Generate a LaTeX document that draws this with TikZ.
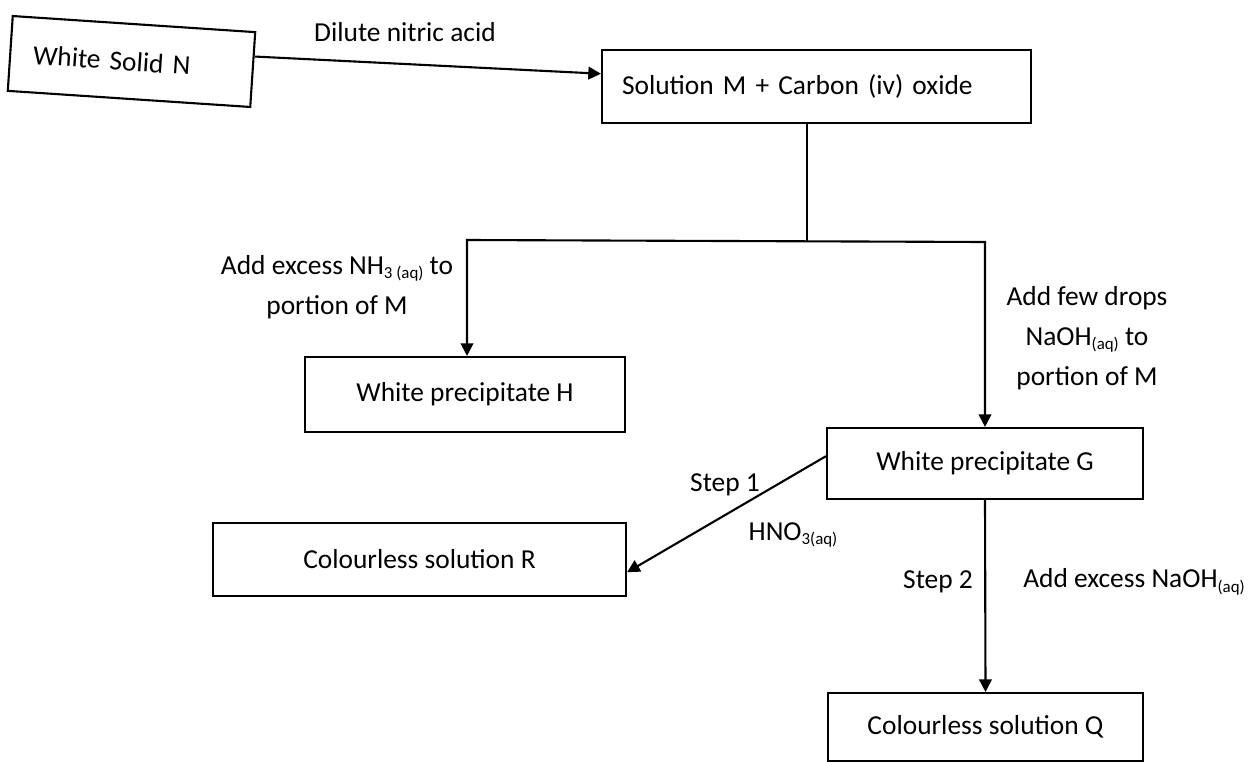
\documentclass[tikz,border=0pt]{standalone}
\usepackage{fontspec}
\setmainfont{Carlito}
\usetikzlibrary{arrows.meta,calc}
\newcommand\chemsub[1]{\raisebox{-0.35ex}{\fontsize{12}{12}\selectfont #1}}
\begin{document}
\begin{tikzpicture}[x=0.025cm,y=-0.025cm,
  every node/.style={font=\fontsize{19.5}{28.5}\selectfont},
  box/.style={draw, line width=1.5pt, inner sep=0pt},
  conn/.style={line width=1.5pt},
  tipA/.tip={Triangle[length=9pt,width=9pt]},
  arr/.style={conn, -tipA},
  lbl/.style={align=center, inner sep=0pt}]
\useasboundingbox (0,0) rectangle (1250,762);
% boxes
\node[box, rotate=-3.8, minimum width=243*0.025cm, minimum height=75*0.025cm,
      text width=197*0.025cm, align=left, inner xsep=23*0.025cm] (N) at (131.5,61.5) {White Solid N};
\node[box, minimum width=429*0.025cm, minimum height=73*0.025cm,
      text width=389*0.025cm, align=left, inner xsep=20*0.025cm] (M) at (816.5,86.5) {Solution M + Carbon (iv) oxide};
\node[box, minimum width=320*0.025cm, minimum height=75*0.025cm] (H) at (465,394.5) {White precipitate H};
\node[box, minimum width=316*0.025cm, minimum height=71*0.025cm] (G) at (985,463.5) {White precipitate G};
\node[box, minimum width=413*0.025cm, minimum height=73*0.025cm] (R) at (419.5,559.5) {Colourless solution R};
\node[box, minimum width=315*0.025cm, minimum height=68*0.025cm] (Q) at (985.5,727) {Colourless solution Q};
% junction points
\coordinate (jn) at (807,241);
\coordinate (hl) at (467,240);
\coordinate (hr) at (985,242);
% connectors
\draw[arr] ($(N.north east)!0.33!(N.south east)$) -- ($(M.north west)!0.33!(M.south west)$);
\draw[conn] (M.south -| jn) -- (jn);
\draw[conn, tipA-tipA] (hl |- H.north) -- (hl) -- (hr) -- (hr |- G.north);
\draw[arr] ($(G.north west)!0.4!(G.south west)$) -- ($(R.north east)!0.67!(R.south east)$);
\draw[arr] (G.south) -- (Q.north);
% labels
\node[lbl] (dil) at (405,32) {Dilute nitric acid};
\node[lbl] (nh) at (337,287) {Add excess NH\chemsub{3 (aq)} to\\portion of M};
\node[lbl] (fd) at (1087,338) {Add few drops\\NaOH\chemsub{(aq)} to\\portion of M};
\node[lbl] (s1) at (725,485) {Step 1};
\node[lbl] (hno) at (793,535) {HNO\chemsub{3(aq)}};
\node[lbl] (s2) at (938,582) {Step 2};
\node[lbl] (ex) at (1134,582) {Add excess NaOH\chemsub{(aq)}};
\end{tikzpicture}
\end{document}
